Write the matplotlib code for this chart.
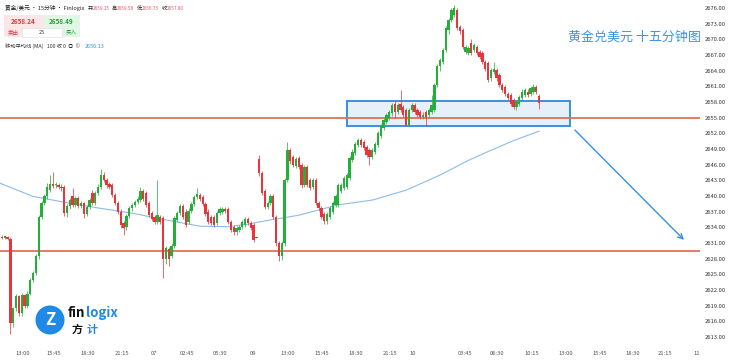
import matplotlib
matplotlib.use("Agg")
import matplotlib.pyplot as plt
from matplotlib.patches import Rectangle, Ellipse
import numpy as np

plt.rcParams['font.family'] = ['Noto Sans CJK SC', 'DejaVu Sans']

# 15 分钟 K 线 (开 / 高 / 低 / 收)
opens = [
    2632.2, 2632.0, 2632.2, 2631.8, 2615.6, 2618.5, 2620.8, 2617.5, 2621.0, 2619.0,
    2621.3, 2623.9, 2625.2, 2628.4, 2636.0, 2638.6, 2639.9, 2641.2, 2642.3, 2642.0,
    2642.0, 2641.8, 2641.8, 2636.7, 2638.0, 2640.0, 2638.2, 2639.6, 2638.0, 2638.6,
    2636.5, 2637.8, 2640.5, 2638.7, 2640.5, 2641.8, 2644.0, 2643.1, 2642.2, 2642.0,
    2640.2, 2638.6, 2637.0, 2634.8, 2634.0, 2636.2, 2637.6, 2638.2, 2638.8, 2639.2,
    2641.0, 2640.5, 2638.6, 2636.7, 2636.0, 2635.0, 2636.0, 2635.7, 2628.0, 2629.8,
    2628.5, 2630.5, 2635.4, 2636.7, 2638.0, 2637.0, 2635.0, 2637.2, 2638.5, 2639.8,
    2640.2, 2639.8, 2638.5, 2637.0, 2636.0, 2636.0, 2634.8, 2636.8, 2637.0, 2637.5,
    2637.5, 2635.0, 2634.0, 2633.0, 2633.5, 2634.0, 2634.5, 2635.5, 2634.8, 2634.5,
    2632.0,
    2647.0, 2644.3, 2641.0, 2637.8, 2638.6, 2639.9, 2636.0, 2630.9, 2628.4, 2630.9,
    2643.0, 2648.8, 2647.5, 2645.8, 2647.2, 2645.9, 2642.1, 2645.6, 2643.0, 2641.8,
    2643.0, 2638.6, 2637.6, 2636.6, 2635.1, 2636.0, 2637.0, 2638.3, 2638.3, 2641.0,
    2641.5, 2641.8, 2643.4, 2646.9, 2648.2, 2649.8, 2650.7, 2650.4, 2649.4, 2648.8,
    2647.5, 2648.5, 2649.8, 2651.5, 2653.0, 2654.2, 2655.0, 2655.8, 2657.7, 2656.0,
    2657.7, 2657.1, 2656.5, 2653.6, 2656.5, 2657.4, 2656.5, 2656.0, 2655.2, 2656.0,
    2655.5, 2656.0, 2656.5,
    2661.2, 2664.8, 2665.7, 2668.0, 2671.8, 2673.7, 2674.7, 2675.6, 2672.4, 2671.8,
    2667.6, 2667.3, 2669.2, 2667.9, 2668.6, 2667.6, 2667.3, 2665.7, 2665.4, 2662.5,
    2663.8, 2664.1, 2663.2, 2661.2, 2660.9, 2659.6, 2659.3, 2658.4, 2657.1, 2657.7,
    2658.7, 2659.3, 2660.0, 2659.6, 2660.0, 2660.9, 2659.15,
]
highs = [
    2632.6, 2632.5, 2632.4, 2632.2, 2618.8, 2621.2, 2621.0, 2621.4, 2621.3, 2621.8,
    2624.2, 2625.6, 2628.8, 2636.4, 2639.0, 2640.4, 2642.4, 2644.0, 2644.5, 2642.6,
    2642.4, 2642.2, 2642.0, 2638.4, 2639.6, 2641.5, 2640.0, 2639.9, 2639.0, 2638.9,
    2638.2, 2639.6, 2641.2, 2640.9, 2642.2, 2645.2, 2644.6, 2643.5, 2642.7, 2642.5,
    2640.6, 2639.0, 2637.4, 2635.2, 2636.6, 2638.0, 2638.6, 2639.2, 2639.9, 2641.8,
    2641.4, 2640.9, 2639.0, 2637.1, 2636.4, 2643.1, 2636.4, 2636.1, 2630.4, 2630.2,
    2631.0, 2636.2, 2637.1, 2638.4, 2638.4, 2637.4, 2637.6, 2638.9, 2640.2, 2641.5,
    2640.6, 2640.2, 2638.9, 2637.4, 2636.4, 2636.4, 2637.2, 2637.9, 2637.9, 2637.9,
    2637.9, 2635.4, 2634.4, 2634.2, 2634.4, 2635.4, 2635.9, 2635.9, 2635.2, 2634.9,
    2632.4,
    2647.8, 2644.8, 2641.4, 2639.0, 2640.3, 2640.3, 2636.4, 2631.3, 2631.3, 2643.4,
    2650.4, 2649.2, 2647.9, 2647.4, 2647.6, 2646.3, 2646.0, 2646.0, 2643.4, 2643.4,
    2643.4, 2639.0, 2638.0, 2637.0, 2637.0, 2638.0, 2639.0, 2640.3, 2642.5, 2642.5,
    2643.8, 2644.4, 2647.6, 2648.9, 2650.4, 2651.1, 2651.1, 2650.8, 2649.8, 2649.2,
    2649.2, 2650.4, 2652.4, 2653.7, 2654.9, 2655.9, 2656.5, 2657.8, 2658.1, 2657.8,
    2660.3, 2657.5, 2656.9, 2656.9, 2657.8, 2657.8, 2656.9, 2656.4, 2656.0, 2656.4,
    2656.9, 2659.3, 2661.6,
    2665.2, 2666.4, 2668.4, 2672.5, 2674.1, 2676.0, 2676.6, 2676.0, 2672.8, 2672.2,
    2669.0, 2668.7, 2670.0, 2669.3, 2669.0, 2668.0, 2667.7, 2666.1, 2665.8, 2664.5,
    2665.7, 2664.5, 2663.6, 2661.6, 2661.3, 2660.0, 2659.7, 2658.8, 2658.4, 2659.4,
    2660.4, 2660.7, 2660.4, 2661.0, 2661.4, 2661.3, 2659.58,
]
lows = [
    2631.8, 2631.7, 2631.6, 2613.6, 2614.8, 2618.0, 2617.0, 2617.0, 2618.5, 2618.6,
    2621.0, 2623.5, 2624.8, 2628.0, 2635.5, 2638.2, 2639.5, 2640.8, 2641.6, 2641.5,
    2641.3, 2641.0, 2636.2, 2635.9, 2637.5, 2637.8, 2637.9, 2637.6, 2637.6, 2635.8,
    2636.1, 2637.4, 2638.3, 2638.3, 2640.1, 2641.4, 2642.7, 2641.6, 2641.3, 2639.8,
    2638.2, 2636.6, 2633.8, 2632.5, 2633.5, 2635.8, 2637.2, 2637.8, 2638.4, 2638.8,
    2639.1, 2637.8, 2636.0, 2635.2, 2634.6, 2634.6, 2634.6, 2624.2, 2627.0, 2626.5,
    2628.1, 2630.1, 2635.0, 2636.3, 2635.6, 2634.1, 2634.6, 2636.8, 2638.1, 2639.4,
    2639.1, 2638.1, 2636.1, 2634.6, 2634.4, 2634.1, 2634.4, 2636.4, 2636.6, 2636.8,
    2634.6, 2633.1, 2632.6, 2632.6, 2633.1, 2633.6, 2634.1, 2634.4, 2633.4, 2631.2,
    2631.9,
    2643.8, 2640.2, 2637.4, 2637.4, 2638.2, 2635.6, 2630.5, 2627.5, 2627.8, 2630.5,
    2642.6, 2646.2, 2645.6, 2645.4, 2645.2, 2641.5, 2641.7, 2641.7, 2641.1, 2641.4,
    2638.2, 2637.2, 2635.6, 2634.6, 2634.7, 2635.6, 2636.6, 2637.9, 2637.9, 2640.6,
    2641.1, 2641.4, 2643.0, 2646.5, 2647.8, 2649.4, 2649.4, 2648.7, 2647.4, 2645.9,
    2647.1, 2648.1, 2649.4, 2651.1, 2652.6, 2653.8, 2654.6, 2655.4, 2655.0, 2655.6,
    2656.1, 2655.1, 2653.4, 2653.4, 2656.1, 2655.7, 2655.1, 2654.8, 2654.8, 2653.4,
    2655.1, 2655.6, 2656.1,
    2660.8, 2664.0, 2665.3, 2667.6, 2671.0, 2673.3, 2674.3, 2671.7, 2671.1, 2668.2,
    2667.2, 2666.9, 2666.9, 2667.5, 2666.9, 2666.3, 2665.3, 2664.0, 2661.8, 2662.1,
    2663.4, 2662.1, 2660.8, 2659.9, 2659.2, 2658.3, 2657.3, 2656.7, 2656.5, 2657.3,
    2658.3, 2658.9, 2658.9, 2659.2, 2659.6, 2659.6, 2656.73,
]
closes = [
    2632.0, 2632.3, 2631.8, 2615.6, 2618.5, 2620.8, 2617.5, 2621.0, 2619.0, 2621.3,
    2623.9, 2625.2, 2628.4, 2636.0, 2638.6, 2639.9, 2641.8, 2642.2, 2641.9, 2642.1,
    2641.8, 2641.5, 2636.7, 2638.0, 2639.2, 2638.2, 2639.6, 2638.0, 2638.6, 2636.5,
    2637.8, 2639.2, 2638.7, 2640.5, 2641.8, 2644.0, 2643.1, 2642.0, 2641.8, 2640.2,
    2638.6, 2637.0, 2634.5, 2633.8, 2636.2, 2637.6, 2638.2, 2638.8, 2639.5, 2641.0,
    2639.5, 2638.2, 2636.4, 2635.6, 2635.0, 2636.3, 2635.0, 2628.0, 2630.0, 2628.0,
    2630.5, 2635.8, 2636.7, 2638.0, 2636.0, 2634.5, 2637.2, 2638.5, 2639.8, 2640.3,
    2639.5, 2638.5, 2636.5, 2635.0, 2634.8, 2634.5, 2636.8, 2637.5, 2637.5, 2637.2,
    2635.0, 2633.5, 2633.0, 2633.8, 2634.0, 2635.0, 2635.5, 2634.8, 2633.8, 2631.6,
    2632.2,
    2644.3, 2640.5, 2637.8, 2638.6, 2639.9, 2636.0, 2630.9, 2628.4, 2630.9, 2643.0,
    2648.8, 2646.6, 2646.0, 2647.0, 2645.6, 2642.1, 2645.6, 2642.1, 2641.5, 2643.0,
    2638.6, 2637.6, 2636.0, 2635.1, 2636.6, 2637.6, 2638.6, 2639.9, 2642.1, 2642.1,
    2643.4, 2644.0, 2647.2, 2648.5, 2650.0, 2650.7, 2649.8, 2649.1, 2647.8, 2647.5,
    2648.8, 2650.0, 2652.0, 2653.3, 2654.5, 2655.5, 2656.1, 2657.4, 2656.0, 2657.4,
    2656.5, 2655.5, 2653.6, 2656.5, 2657.4, 2656.1, 2655.5, 2655.2, 2655.5, 2655.2,
    2656.5, 2657.4, 2661.2,
    2664.8, 2666.0, 2668.0, 2672.1, 2673.7, 2675.6, 2676.0, 2672.1, 2671.5, 2668.6,
    2668.6, 2668.3, 2667.3, 2668.9, 2667.3, 2666.7, 2665.7, 2664.4, 2662.2, 2664.1,
    2664.4, 2662.5, 2661.2, 2660.3, 2659.6, 2658.7, 2657.7, 2657.1, 2658.0, 2659.0,
    2660.0, 2660.3, 2659.3, 2660.6, 2660.9, 2660.0, 2657.80,
]

# 100 周期均线 (读取的点)
ma_bars = [-1, 11, 23, 35, 46, 58, 70, 80, 87, 94, 105, 119, 131, 143, 155, 165, 172, 181, 190]
ma_vals = [2642.5, 2639.9, 2638.7, 2637.6, 2636.7, 2635.4, 2634.2, 2634.1, 2634.6,
           2635.3, 2636.3, 2638.3, 2639.2, 2641.1, 2644.0, 2646.8, 2648.5, 2650.6, 2652.4]

# 支撑 / 阻力
level_high = 2655.0
level_low = 2629.5
zone_low, zone_high = 2653.4, 2658.2
zone_start_bar, zone_end_bar = 122, 201
arrow_start = (202, 2653.0)
arrow_end = (242, 2631.2)

x_labels = ['13:00', '15:45', '18:30', '21:15', '07', '02:45', '05:30', '09',
            '13:00', '15:45', '18:30', '21:15', '10', '03:45', '06:30', '10:15',
            '13:00', '15:45', '18:30', '21:15', '11']
x_label_px = [23, 54, 88, 122, 154, 187, 220, 253, 288, 322, 356, 390, 413,
              465, 497, 532, 566, 600, 633, 665, 697]
y_ticks = list(range(2613, 2677, 3))

GREEN = '#22b03a'
RED = '#e8353b'
BLUE = '#3a8fe3'

W, H = 740, 361
fig = plt.figure(figsize=(W / 100, H / 100), dpi=100)
ax = fig.add_axes([0, 16 / H, 700 / W, 345 / H])

n = len(closes)
pitch = 537 / (n - 1)


def bar_at(px):
    return (px - 2) / pitch


ax.set_xlim(bar_at(0), bar_at(700))
ax.set_ylim(2611.44, 2677.53)

# 区间框 + 水平线
ax.add_patch(Rectangle((zone_start_bar, zone_low), zone_end_bar - zone_start_bar,
                       zone_high - zone_low, facecolor='#e5f0fb',
                       edgecolor=BLUE, lw=1.4, zorder=1))
ax.axhline(level_high, color='#e2705a', lw=1.3, zorder=2)
ax.axhline(level_low, color='#e2705a', lw=1.3, zorder=2)

# 均线
ax.plot(ma_bars, ma_vals, color='#8dbbe8', lw=0.8, zorder=2)

# K 线
x = np.arange(n)
cols = [GREEN if c >= o else RED for o, c in zip(opens, closes)]
ax.vlines(x, lows, highs, colors=cols, linewidth=0.7, alpha=0.75, zorder=3)
bottoms = [min(o, c) for o, c in zip(opens, closes)]
heights = [max(abs(c - o), 0.2) for o, c in zip(opens, closes)]
ax.bar(x, heights, bottom=bottoms, width=0.82, color=cols, linewidth=0, zorder=4)

# 预期箭头
ax.annotate('', xy=arrow_end, xytext=arrow_start,
            arrowprops=dict(arrowstyle='->', color=BLUE, lw=1.0, mutation_scale=9))

ax.yaxis.tick_right()
ax.set_yticks(y_ticks)
ax.set_yticklabels([f'{v:.2f}' for v in y_ticks], fontsize=4.2, color='#333333')
ax.set_xticks([bar_at(p) for p in x_label_px])
ax.set_xticklabels(x_labels, fontsize=4.2, color='#555555')
ax.tick_params(axis='y', length=0, pad=3.5)
ax.tick_params(axis='x', length=0, pad=4.3)
for s in ax.spines.values():
    s.set_visible(False)


def fx(px):
    return px / W


def fy(py):
    return 1 - py / H


# 标题
fig.text(fx(634), fy(37), '黄金兑美元 十五分钟图', fontsize=9.4, color='#3a96e8',
         ha='center', va='center')

# 左上角信息栏
fig.text(fx(5), fy(8), '黄金/美元 · 15分钟 · Finlogix', fontsize=4.1, color='#222222', va='center')
hdr = [('开:', 88, '2659.15'), ('高:', 112, '2659.58'), ('低:', 137, '2656.73'), ('收:', 162, '2657.80')]
for lab, px, val in hdr:
    fig.text(fx(px), fy(8), lab, fontsize=3.6, color='#222222', va='center')
    fig.text(fx(px + 5), fy(8), val, fontsize=3.4, color='#e8556d', va='center')

fig.add_artist(Rectangle((fx(4), fy(37)), 39 / W, 22 / H, transform=fig.transFigure,
                         facecolor='#fde6e8', edgecolor='none'))
fig.add_artist(Rectangle((fx(43), fy(37)), 37 / W, 22 / H, transform=fig.transFigure,
                         facecolor='#e2f6e5', edgecolor='none'))
fig.add_artist(Rectangle((fx(22), fy(37)), 40 / W, 9 / H, transform=fig.transFigure,
                         facecolor='white', edgecolor='#dddddd', lw=0.4))
fig.text(fx(23), fy(21), '2658.24', fontsize=4.6, color=RED, weight='bold', ha='center', va='center')
fig.text(fx(61), fy(21), '2658.49', fontsize=4.6, color='#1fa338', weight='bold', ha='center', va='center')
fig.text(fx(13), fy(32.5), '卖出', fontsize=4, color=RED, ha='center', va='center')
fig.text(fx(42), fy(32.5), '25', fontsize=4, color='#333333', ha='center', va='center')
fig.text(fx(71), fy(32.5), '买入', fontsize=4, color='#1fa338', ha='center', va='center')
fig.text(fx(5), fy(46), '移动平均线 (MA)   100 收 0  ◎  ©', fontsize=3.8, color='#333333', va='center')
fig.text(fx(85), fy(46), '2650.13', fontsize=4, color='#3a8fe3', va='center')

# 角标 logo
fig.add_artist(Ellipse((fx(50), fy(320)), 29 / W, 29 / H, transform=fig.transFigure,
                       facecolor='#1f8ae6', edgecolor='none'))
fig.text(fx(50), fy(320), 'Z', fontsize=12, color='white', weight='bold',
         ha='center', va='center', style='italic')
fig.text(fx(68), fy(313), 'fin', fontsize=9.5, color='#111111', weight='bold', va='center')
fig.text(fx(86), fy(313), 'logix', fontsize=9.5, color='#1f8ae6', weight='bold', va='center')
fig.text(fx(72), fy(329), '方', fontsize=8, color='#111111', weight='bold', va='center')
fig.text(fx(87), fy(329), '计', fontsize=8, color='#1f8ae6', weight='bold', va='center')

fig.savefig('out.png', dpi=100, facecolor='white')
